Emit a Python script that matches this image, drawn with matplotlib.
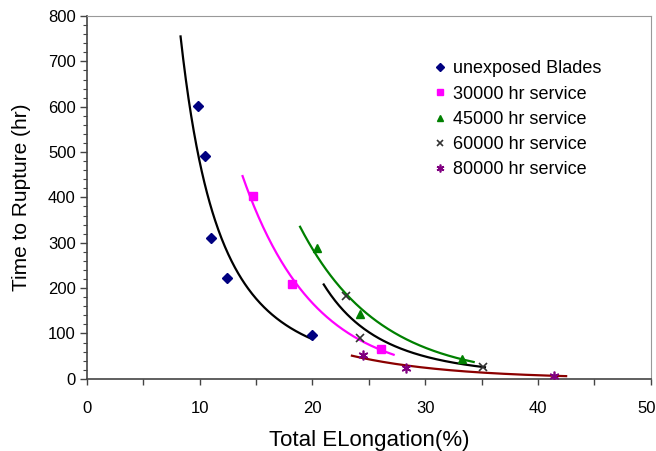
import numpy as np
import matplotlib
matplotlib.use("Agg")
import matplotlib.pyplot as plt
from matplotlib.ticker import MultipleLocator, FuncFormatter

plt.rcParams['font.family'] = ['Liberation Sans', 'DejaVu Sans']

# Measured points: total elongation (%) vs time to rupture (hr)
unexposed_x = [9.85, 10.5, 11.0, 12.4, 20.0]
unexposed_y = [602, 491, 311, 222, 96]
s30k_x = [14.7, 18.2, 26.05]
s30k_y = [403, 210, 65]
s45k_x = [20.4, 24.2, 33.3]
s45k_y = [288, 144, 44]
s60k_x = [23.0, 24.2, 35.1]
s60k_y = [182, 90, 27]
s80k_x = [24.5, 28.3, 41.4]
s80k_y = [52, 25, 7]

labels = ["unexposed Blades", "30000 hr service", "45000 hr service",
          "60000 hr service", "80000 hr service"]

# trend line type and x extent for each series
trend_types = ['power', 'exp', 'exp', 'power', 'exp']
trend_ranges = [(8.3, 20.0), (13.8, 27.2), (18.9, 34.3), (21.0, 35.3), (23.5, 42.5)]

series = [(unexposed_x, unexposed_y), (s30k_x, s30k_y), (s45k_x, s45k_y),
          (s60k_x, s60k_y), (s80k_x, s80k_y)]
marker_styles = [
    dict(marker='D', color='#000080', ms=5.5),
    dict(marker='s', color='#ff00ff', ms=5.5),
    dict(marker='^', color='#008000', ms=6),
    dict(marker='x', color='#333333', ms=6, mew=1.2),
    dict(marker=(6, 2, 0), color='#800080', ms=7, mew=1.2),
]
line_colors = ['#000000', '#ff00ff', '#008000', '#000000', '#8b0000']

X_MAX = 50


# Spreadsheet-style trend lines fitted by least squares on ln y
def trend(x, y, kind, xs):
    x = np.asarray(x, float)
    ly = np.log(y)
    if kind == 'power':
        b, c = np.polyfit(np.log(x), ly, 1)
        return np.exp(c) * xs ** b
    b, c = np.polyfit(x, ly, 1)
    return np.exp(c + b * xs)


fig = plt.figure(figsize=(6.56, 4.51), dpi=100)
ax = fig.add_axes([0.1326, 0.160, 0.8593, 0.8045])

handles = []
for (x, y), kind, rng, ms, lc, lab in zip(series, trend_types, trend_ranges,
                                          marker_styles, line_colors, labels):
    xs = np.linspace(rng[0], rng[1], 200)
    ax.plot(xs, trend(x, y, kind, xs), color=lc, lw=1.6, zorder=2)
    h, = ax.plot(x, y, linestyle='none', zorder=3, label=lab, **ms)
    handles.append(h)

ax.set_xlim(0, X_MAX)
ax.set_ylim(0, 800)
ax.xaxis.set_major_locator(MultipleLocator(10))
ax.xaxis.set_minor_locator(MultipleLocator(5))
ax.yaxis.set_major_locator(MultipleLocator(100))
ax.yaxis.set_minor_locator(MultipleLocator(20))
# last x label is drawn separately so it stays inside the figure
ax.xaxis.set_major_formatter(FuncFormatter(lambda v, p: '' if v >= X_MAX else f'{v:g}'))
ax.tick_params(axis='x', which='both', direction='out', length=4, width=1,
               color='#444444', labelsize=12, pad=12)
ax.tick_params(axis='y', which='major', direction='out', length=5, width=1,
               color='#444444', labelsize=12, pad=3)
ax.tick_params(axis='y', which='minor', direction='out', length=3, width=0.8,
               color='#444444')
ax.annotate(f'{X_MAX}', xy=(X_MAX, 0), xycoords=('data', 'axes fraction'),
            xytext=(4, -16), textcoords='offset points', ha='right', va='top',
            fontsize=12, annotation_clip=False)

for side in ['left', 'bottom']:
    ax.spines[side].set_color('#444444')
    ax.spines[side].set_linewidth(1.2)
for side in ['top', 'right']:
    ax.spines[side].set_color('#999999')
    ax.spines[side].set_linewidth(0.8)

ax.set_xlabel("Total ELongation(%)", fontsize=16, labelpad=10)
ax.set_ylabel("Time to Rupture (hr)", fontsize=15, labelpad=12)

ax.legend(handles=handles, loc='upper left', bbox_to_anchor=(0.601, 0.903),
          frameon=False, fontsize=13, handlelength=0.6, handletextpad=0.4,
          labelspacing=0.46, borderpad=0, markerscale=0.8)

fig.savefig("out.png", dpi=100)
